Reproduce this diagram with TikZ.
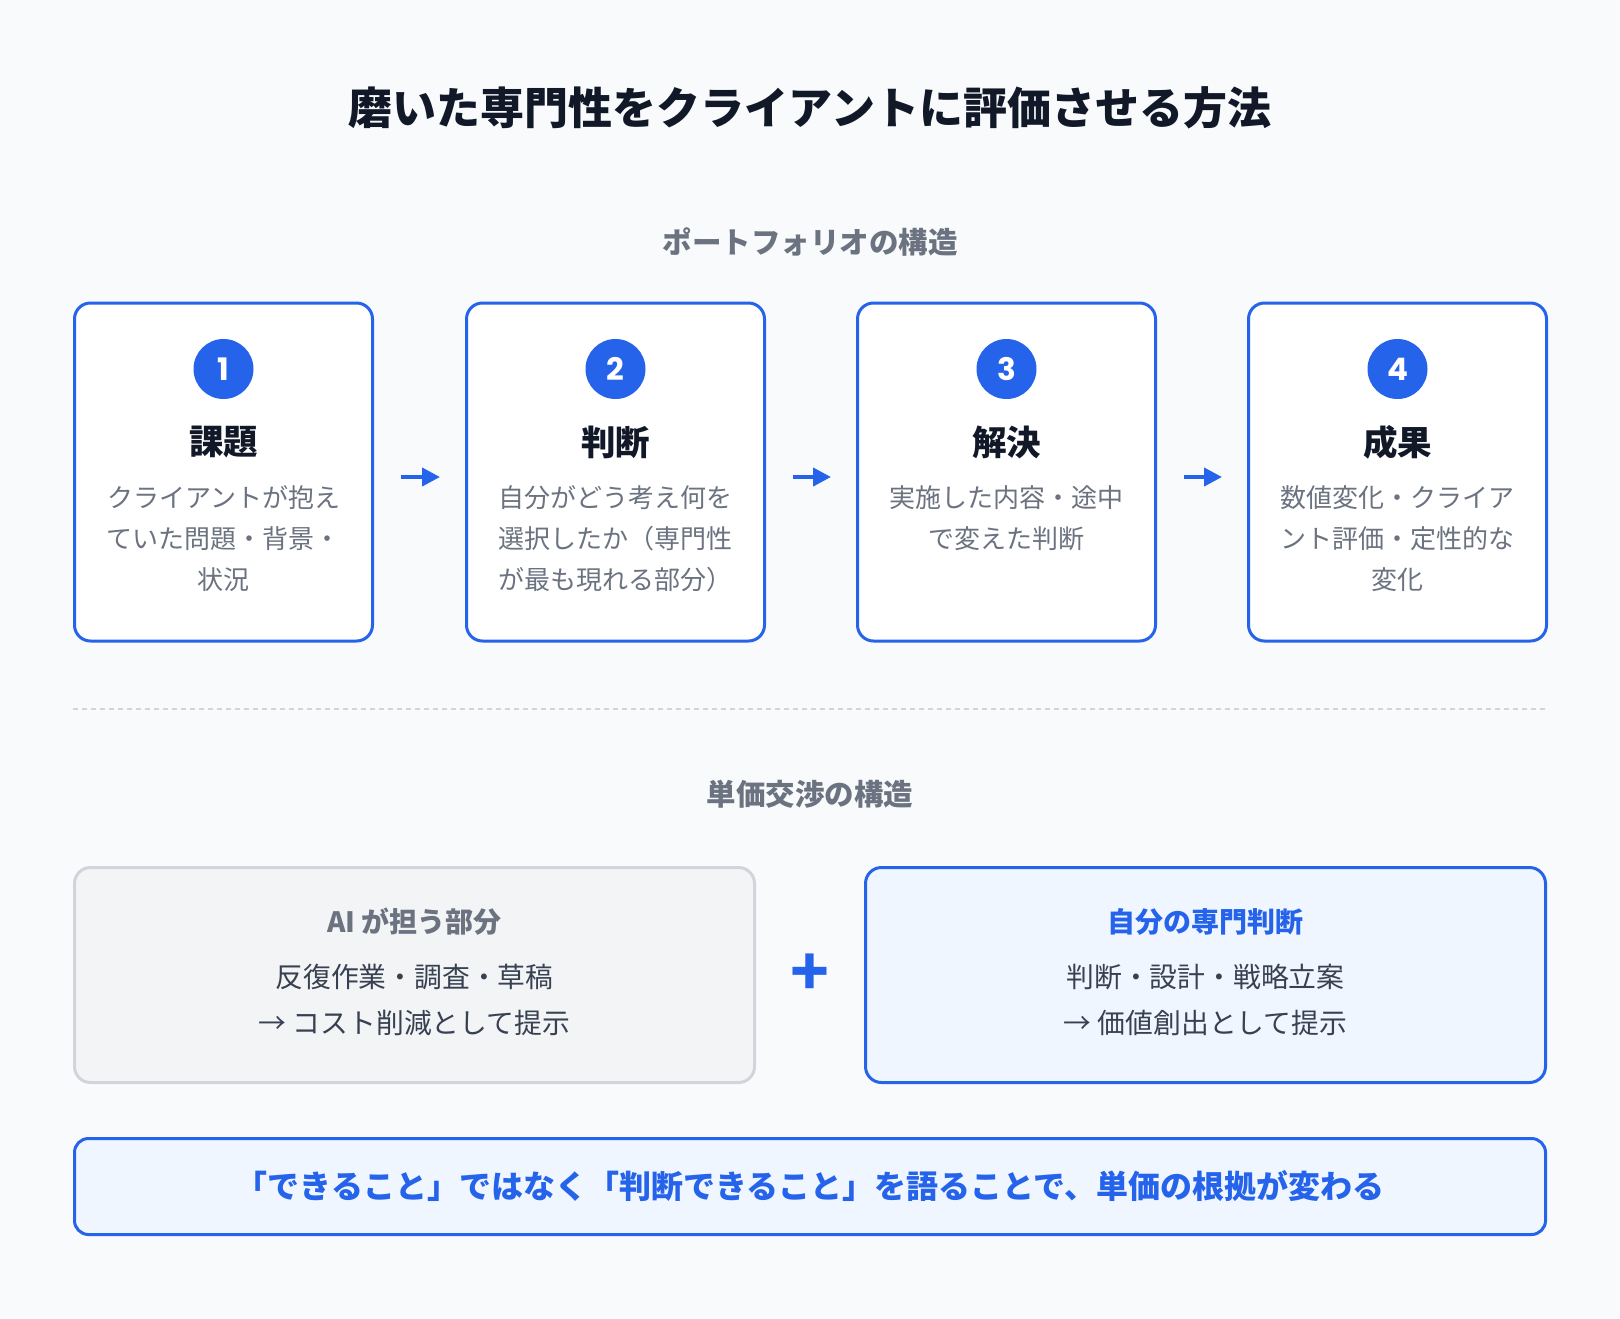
\documentclass[tikz,border=0pt]{standalone}
\usepackage{fontspec}
\setmainfont{Noto Sans CJK JP}
\newfontfamily\numfont{Poppins}
\usetikzlibrary{arrows.meta}
\definecolor{bgc}{HTML}{F8FAFC}
\definecolor{blu}{HTML}{2563EB}
\definecolor{dark}{HTML}{111827}
\definecolor{gry}{HTML}{6B7280}
\definecolor{txt}{HTML}{374151}
\definecolor{lgray}{HTML}{F3F4F6}
\definecolor{lborder}{HTML}{D1D5DB}
\definecolor{lblue}{HTML}{EFF6FF}
\definecolor{dashc}{HTML}{D1D5DB}
\begin{document}
\begin{tikzpicture}[x=1pt,y=-1pt,
  card/.style={draw=blu, line width=3pt, fill=white, rounded corners=16pt,
    minimum width=298pt, minimum height=338pt, inner sep=0pt},
  numc/.style={circle, fill=blu, text=white, minimum size=60pt, inner sep=0pt,
    font=\numfont\bfseries\fontsize{31}{31}\selectfont},
  ctitle/.style={text=dark, inner sep=0pt, font=\bfseries\fontsize{34.5}{38}\selectfont},
  cdesc/.style={text=gry, inner sep=0pt, align=center, anchor=north,
    font=\fontsize{26}{41}\selectfont},
  sect/.style={text=gry, inner sep=0pt, font=\bfseries\fontsize{29.5}{32}\selectfont},
  flowarr/.style={draw=blu, line width=4pt, -{Triangle[length=18pt,width=18pt]},
    shorten <=27pt, shorten >=25pt},
  graybox/.style={draw=lborder, line width=3pt, fill=lgray, rounded corners=16pt,
    minimum width=680pt, minimum height=215pt, inner sep=0pt},
  bluebox/.style={draw=blu, line width=3pt, fill=lblue, rounded corners=16pt,
    minimum width=680pt, minimum height=215pt, inner sep=0pt},
  bhead/.style={inner sep=0pt, font=\bfseries\fontsize{28}{30}\selectfont},
  btext/.style={text=txt, inner sep=0pt, font=\fontsize{27.8}{30}\selectfont},
]
\fill[bgc] (0,0) rectangle (1620,1318);
\useasboundingbox (0,0) rectangle (1620,1318);

\node[text=dark, inner sep=0pt, font=\bfseries\fontsize{44}{48}\selectfont] (title) at (810,108) {磨いた専門性をクライアントに評価させる方法};

\node[sect] (s1) at (810,242) {ポートフォリオの構造};

% cards
\node[card] (c1) at (223.5,472) {};
\node[card] (c2) at (615.5,472) {};
\node[card] (c3) at (1006.5,472) {};
\node[card] (c4) at (1397.5,472) {};

\node[numc] (n1) at (223.5,369) {1};
\node[numc] (n2) at (615.5,369) {2};
\node[numc] (n3) at (1006.5,369) {3};
\node[numc] (n4) at (1397.5,369) {4};

\node[ctitle] (t1) at (223.5,442) {課題};
\node[ctitle] (t2) at (615.5,442) {判断};
\node[ctitle] (t3) at (1006.5,442) {解決};
\node[ctitle] (t4) at (1397.5,442) {成果};

\node[cdesc] (d1) at (223.5,485) {クライアントが抱え\\ていた問題・背景・\\状況};
\node[cdesc] (d2) at (615.5,485) {自分がどう考え何を\\選択したか（専門性\\が最も現れる部分）};
\node[cdesc] (d3) at (1006.5,485) {実施した内容・途中\\で変えた判断};
\node[cdesc] (d4) at (1397.5,485) {数値変化・クライア\\ント評価・定性的な\\変化};

\coordinate (a1s) at (c1.east |- 0,477);
\coordinate (a1e) at (c2.west |- 0,477);
\coordinate (a2s) at (c2.east |- 0,477);
\coordinate (a2e) at (c3.west |- 0,477);
\coordinate (a3s) at (c3.east |- 0,477);
\coordinate (a3e) at (c4.west |- 0,477);
\draw[flowarr] (a1s) -- (a1e);
\draw[flowarr] (a2s) -- (a2e);
\draw[flowarr] (a3s) -- (a3e);

% divider
\coordinate (dvl) at (73,709);
\coordinate (dvr) at (1547,709);
\draw[dashc, line width=1.5pt, dash pattern=on 5pt off 4pt] (dvl) -- (dvr);

\node[sect] (s2) at (810,794) {単価交渉の構造};

% bottom boxes
\node[graybox] (lb) at (414.5,975) {};
\node[bluebox] (rb) at (1205.5,975) {};

\node[bhead, text=gry] (lh) at (414.5,922) {AI が担う部分};
\node[btext] (l1) at (414.5,977) {反復作業・調査・草稿};
\node[btext] (l2) at (414.5,1023) {→ コスト削減として提示};

\node[bhead, text=blu] (rh) at (1205.5,922) {自分の専門判断};
\node[btext] (r1) at (1205.5,977) {判断・設計・戦略立案};
\node[btext] (r2) at (1205.5,1023) {→ 価値創出として提示};

\node[text=blu, inner sep=0pt, font=\bfseries\fontsize{64}{68}\selectfont] (plus) at (810,975) {+};

% banner
\node[draw=blu, line width=3pt, fill=lblue, rounded corners=14pt,
  minimum width=1471pt, minimum height=96pt, inner sep=0pt] (ban) at (810,1186.5) {};
\node[text=blu, inner sep=0pt, font=\bfseries\fontsize{32}{36}\selectfont] (bt) at (810,1186) {「できること」ではなく「判断できること」を語ることで、単価の根拠が変わる};
\end{tikzpicture}
\end{document}
